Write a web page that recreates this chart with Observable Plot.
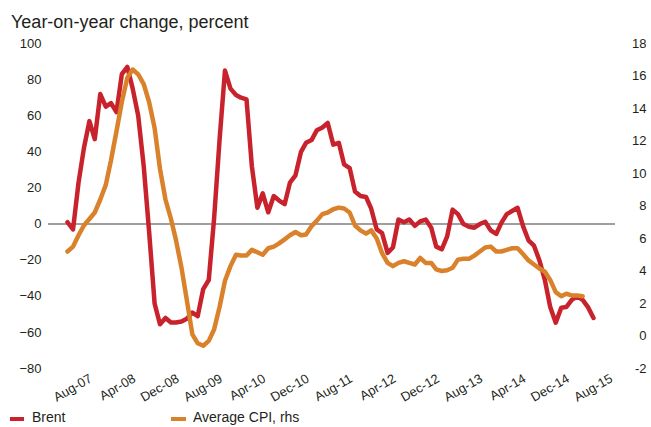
<!DOCTYPE html>
<html><head><meta charset="utf-8">
<script src="https://cdn.jsdelivr.net/npm/d3@7"></script>
<script src="https://cdn.jsdelivr.net/npm/@observablehq/plot@0.6"></script>
<style>
body{margin:0;background:#fff;}
#wrap{position:relative;width:651px;height:427px;font-family:"Liberation Sans",Arial,sans-serif;color:#231f20;overflow:hidden}
#title{position:absolute;left:11px;top:12px;font-size:18px;line-height:20px;white-space:nowrap}
#chart{position:absolute;left:0;top:30px}
.leg{position:absolute;top:408px;font-size:14px;line-height:18px;white-space:nowrap;color:#231f20}
.sw{position:absolute;top:417px;height:4px}
</style></head><body>
<div id="wrap">
 <div id="title">Year-on-year change, percent</div>
 <div id="chart"></div>
 <div id="legend"></div>
</div>
<script>
// ---- data ----
const startMonth = "2007-07";           // first month of both series
const seriesNames = ["Brent", "Average CPI, rhs"];
const seriesColors = ["#C8232C", "#D9822B"];
// Brent, year-on-year %, monthly Jul-07 .. Aug-15 (left axis)
const brent = [1,-3,23,42,57,47,72,65,67,62,
  83,87,75,60,32,-4,-44,-55.5,-52,-54.5,
  -54.5,-54,-52.5,-49,-51,-36,-31,3,47,85,
  75,71.5,70,69,32,9,17,6.5,15.5,13,
  11,23,27,40,45,46.5,52,53.5,56,44,
  45,33,31,18,15.5,15,8.5,-3,-5,-16,
  -13,2.5,1,2.5,-1,1.5,2.5,-2,-12.5,-14,
  -7,8,5.5,0,-1.5,-2,0,1.3,-3.5,-5.5,
  0.5,5.5,7.2,9,-1,-9,-12,-20,-31,-46,
  -54.6,-46.3,-46,-42,-40,-42,-46,-52];
// Average CPI, year-on-year %, monthly Jul-07 .. Jun-15 (right axis)
const cpi = [5.2,5.5,6.2,6.8,7.2,7.6,8.4,9.3,10.8,12.6,
  14.4,15.9,16.4,16.1,15.5,14.4,12.8,10.3,8.4,7.2,
  5.9,4.2,2.2,0.1,-0.45,-0.6,-0.3,0.4,1.8,3.4,
  4.3,5.0,4.95,4.95,5.3,5.15,5.0,5.4,5.5,5.7,
  5.95,6.2,6.4,6.2,6.25,6.75,7.1,7.5,7.6,7.8,
  7.9,7.85,7.6,6.8,6.5,6.3,6.5,6.0,5.1,4.5,
  4.3,4.5,4.6,4.5,4.4,4.8,4.5,4.5,4.1,4.0,
  4.05,4.2,4.7,4.75,4.75,4.95,5.2,5.45,5.5,5.2,
  5.2,5.3,5.4,5.4,5.05,4.65,4.4,4.15,3.95,3.45,
  2.7,2.45,2.6,2.5,2.5,2.45];
const xTickLabels = ["Aug-07","Apr-08","Dec-08","Aug-09","Apr-10","Dec-10","Aug-11",
  "Apr-12","Dec-12","Aug-13","Apr-14","Dec-14","Aug-15"];
const leftTicks = [-80,-60,-40,-20,0,20,40,60,80,100];
const rightTicks = [-2,0,2,4,6,8,10,12,14,16,18];
const leftDomain = [-80, 100];
const rightDomain = [-2, 18];

// ---- build ----
const parseM = d3.utcParse("%Y-%m");
const start = parseM(startMonth);
const monthAt = i => d3.utcMonth.offset(start, i);
const brentData = brent.map((v, i) => ({date: monthAt(i), value: v}));
const cpiData = cpi.map((v, i) => ({date: monthAt(i), value: v}));
const toLeft = v => leftDomain[0] + (v - rightDomain[0]) * (leftDomain[1] - leftDomain[0]) / (rightDomain[1] - rightDomain[0]);
const fromLeft = d => rightDomain[0] + (d - leftDomain[0]) * (rightDomain[1] - rightDomain[0]) / (leftDomain[1] - leftDomain[0]);
const parseLbl = d3.utcParse("%b-%y");
const xTicks = xTickLabels.map(s => parseLbl(s));
const fmtLbl = d3.utcFormat("%b-%y");

const chart = Plot.plot({
  width: 651, height: 378,
  marginLeft: 67, marginRight: 58, marginTop: 13, marginBottom: 40,
  style: {fontFamily: "'Liberation Sans', Arial, sans-serif", fontSize: "13px", color: "#231f20", background: "transparent"},
  x: {type: "utc", domain: [brentData[0].date, brentData[brentData.length - 1].date]},
  y: {domain: leftDomain},
  marks: [
    Plot.ruleY([0], {stroke: "#7f7f7f", strokeWidth: 1.5, insetLeft: -19, insetRight: -22}),
    Plot.axisY({anchor: "left", ticks: leftTicks, tickSize: 0, tickPadding: 0, dx: -26, textAnchor: "end", label: null, fontSize: 13}),
    Plot.axisY({anchor: "right", ticks: rightTicks.map(toLeft), tickFormat: d => String(Math.round(fromLeft(d))),
      tickSize: 0, tickPadding: 0, dx: 53, textAnchor: "end", label: null, fontSize: 13}),
    Plot.axisX({ticks: xTicks, tickFormat: fmtLbl, tickSize: 0, tickPadding: 0, tickRotate: -30,
      textAnchor: "end", lineAnchor: "middle", dx: 18, dy: 9, label: null, fontSize: 13}),
    Plot.line(brentData, {x: "date", y: "value", stroke: seriesColors[0], strokeWidth: 4.5,
      strokeLinejoin: "round", strokeLinecap: "round"}),
    Plot.line(cpiData, {x: "date", y: d => toLeft(d.value), stroke: seriesColors[1], strokeWidth: 4.5,
      strokeLinejoin: "round", strokeLinecap: "round"})
  ]
});
document.getElementById("chart").appendChild(chart);

// legend
const leg = document.getElementById("legend");
const swLeft = [10, 171], swWidth = [14, 15], txtLeft = [32, 193];
seriesNames.forEach((name, i) => {
  const sw = document.createElement("div");
  sw.className = "sw";
  sw.style.left = swLeft[i] + "px"; sw.style.width = swWidth[i] + "px"; sw.style.background = seriesColors[i];
  leg.appendChild(sw);
  const t = document.createElement("div");
  t.className = "leg"; t.style.left = txtLeft[i] + "px"; t.textContent = name;
  leg.appendChild(t);
});
</script>
</body></html>
